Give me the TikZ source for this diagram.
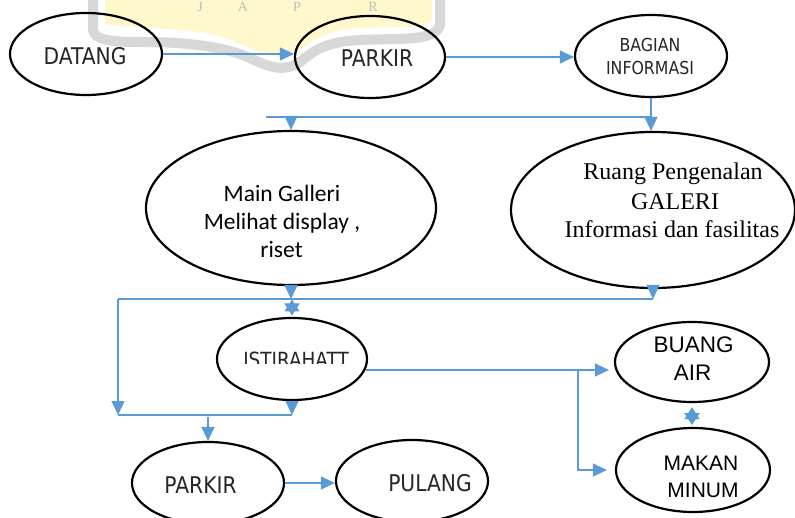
\documentclass[tikz,border=0pt]{standalone}
\usepackage{fontspec}
\usetikzlibrary{shapes.geometric,arrows.meta}
\newfontfamily\tahfont{DejaVu Sans}[FakeStretch=0.88]
\newfontfamily\calfont{Carlito}
\newfontfamily\timesfont{Liberation Serif}
\newfontfamily\arialfont{Liberation Sans}
\definecolor{conn}{RGB}{91,155,213}
\definecolor{wmyellow}{RGB}{255,248,204}
\definecolor{wmgray}{RGB}{216,216,216}
\definecolor{wmletter}{RGB}{190,190,190}
\definecolor{txt}{RGB}{38,38,38}
\begin{document}
\begin{tikzpicture}[x=1pt,y=-1pt,
  oval/.style={draw=black,line width=2.2pt,ellipse,inner sep=0pt},
  link/.style={draw=conn,line width=1.2pt},
  arr/.style={link,-{Triangle[length=14pt,width=13pt]}},
  starhead/.style={link,-{Triangle[length=12pt,width=15pt]}},
  tah/.style={anchor=base,text=txt,inner sep=0pt,font=\tahfont\fontsize{#1}{#1}\selectfont},
  cal/.style={anchor=base,inner sep=0pt,font=\calfont\fontsize{23.5}{28}\selectfont},
  tms/.style={anchor=base,inner sep=0pt,font=\timesfont\fontsize{24}{28}\selectfont},
  ari/.style={anchor=base,inner sep=0pt,font=\arialfont\fontsize{#1}{#1}\selectfont},
  wml/.style={anchor=base,inner sep=0pt,text=wmletter,font=\timesfont\fontsize{14}{16}\selectfont}
]
\useasboundingbox (0,0) rectangle (795,518);
\fill[white] (0,0) rectangle (795,518);

% watermark (background logo)
\fill[wmyellow] (105,0) -- (105,24) .. controls (140,30) and (190,26) .. (225,38)
  .. controls (255,48) and (270,62) .. (290,55) .. controls (310,45) and (320,30) .. (360,28)
  .. controls (400,26) and (425,30) .. (432,20) -- (432,0) -- cycle;
\draw[wmgray,line width=10pt] (93,0) -- (93,30) .. controls (95,40) and (110,42) .. (140,42)
  .. controls (180,42) and (220,45) .. (250,58) .. controls (270,68) and (285,72) .. (300,62)
  .. controls (315,50) and (325,42) .. (360,40) .. controls (400,38) and (435,42) .. (440,25) -- (440,0);
\node[wml] (wmJ) at (200,12) {J};
\node[wml] (wmA) at (243,12) {A};
\node[wml] (wmP) at (297,12) {P};
\node[wml] (wmR) at (373,12) {R};

% ellipses
\node[oval,minimum width=152pt,minimum height=82pt] (datang) at (86,54) {};
\node[oval,minimum width=150pt,minimum height=82pt] (parkirA) at (370,57) {};
\node[oval,minimum width=152pt,minimum height=82pt] (bagian) at (651,56) {};
\node[oval,minimum width=290pt,minimum height=154pt] (main) at (291,208) {};
\node[oval,minimum width=284pt,minimum height=156pt] (ruang) at (653,210) {};
\node[oval,minimum width=150pt,minimum height=82pt] (istirahat) at (292,359) {};
\node[oval,minimum width=154pt,minimum height=80pt] (buang) at (692,362) {};
\node[oval,minimum width=154pt,minimum height=84pt] (makan) at (693,470) {};
\node[oval,minimum width=152pt,minimum height=82pt] (parkirB) at (208,483) {};
\node[oval,minimum width=152pt,minimum height=82pt] (pulang) at (412,481) {};

% texts
\node[tah=23] (tDatang) at (85,65) {DATANG};
\node[tah=23] (tParkirA) at (377,66.5) {PARKIR};
\node[tah=17.9] (tBagian1) at (650,51.5) {BAGIAN};
\node[tah=17.9] (tBagian2) at (650,75) {INFORMASI};
\node[cal] (tMain1) at (282,201.5) {Main Galleri};
\node[cal] (tMain2) at (282,230) {Melihat display ,};
\node[cal] (tMain3) at (281.5,258) {riset};
\node[tms] (tRuang1) at (673,180) {Ruang Pengenalan};
\node[tms] (tRuang2) at (675,210) {GALERI};
\node[tms] (tRuang3) at (672,238) {Informasi dan fasilitas};
\begin{scope}
  \clip (200,340) rectangle (380,364);
  \node[tah=20.9] (tIstirahat) at (296,368) {ISTIRAHATT};
\end{scope}
\node[ari=22.5] (tBuang1) at (693.5,353) {BUANG};
\node[ari=22.5] (tBuang2) at (692.5,381) {AIR};
\node[ari=21] (tMakan1) at (701,470) {MAKAN};
\node[ari=21] (tMakan2) at (703,497) {MINUM};
\node[tah=23] (tParkirB) at (200.5,493) {PARKIR};
\node[tah=23] (tPulang) at (430,491) {PULANG};

% connectors
\draw[arr] (datang.east) -- (datang.east -| parkirA.west);
\draw[arr] (parkirA.east) -- (parkirA.east -| bagian.west);
\coordinate (h1) at (266,117);
\draw[link] (h1) -- (h1 -| bagian.south);
\draw[arr] (bagian.south) -- (ruang.north -| bagian.south);
\draw[arr] (h1 -| main.north) -- (main.north);

\coordinate (h2) at (118,299);
\draw[link] (h2) -- (h2 -| ruang.south);
\draw[arr] (ruang.south) -- (ruang.south |- h2);
\draw[arr] (main.south) -- (main.south |- h2);
% double-headed star between line and ISTIRAHATT
\path (h2 -| istirahat.north) ++(0,8.5) coordinate (s1);
\draw[starhead] (s1) -- ++(0,-8);
\draw[starhead] (s1) -- ++(0,8);

\coordinate (h3) at (118,415);
\draw[arr] (h2) -- (h3);
\draw[link] (h3) -- (h3 -| istirahat.south);
\draw[arr] (istirahat.south) -- (istirahat.south |- h3);
\draw[arr] ([yshift=24pt]parkirB.north) -- (parkirB.north);
\draw[arr] (parkirB.east) -- (parkirB.east -| pulang.west);

\coordinate (ie) at (366,370);
\coordinate (jn) at (578,370);
\draw[arr,shorten >=5pt] (ie) -- (ie -| buang.west);
\draw[arr,shorten >=8pt] (jn) |- (makan.west);
% double-headed star between BUANG AIR and MAKAN MINUM
\path (buang.south) ++(0,13) coordinate (s2);
\draw[starhead] (s2) -- ++(0,-9);
\draw[starhead] (s2) -- ++(0,9);
\end{tikzpicture}
\end{document}
